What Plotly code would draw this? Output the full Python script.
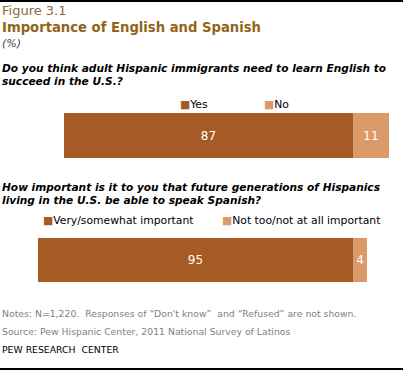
import plotly.graph_objects as go

W, H = 405, 371

# Data
q1_labels = ["Yes", "No"]
q1_values = [87, 11]
q2_labels = ["Very/somewhat important", "Not too/not at all important"]
q2_values = [95, 4]
colors = ["#A65A24", "#DC996A"]

def py(p):
    return 1 - p / H

def px(p):
    return p / W

fig = go.Figure()

# Question 1 bars
for lab, val, col in zip(q1_labels, q1_values, colors):
    fig.add_trace(go.Bar(
        x=[val], y=["q1"], orientation="h", name=lab,
        marker=dict(color=col, line=dict(width=0)),
        text=[str(val)], textposition="inside", insidetextanchor="middle",
        textfont=dict(color="white", size=12, family="DejaVu Sans"),
        xaxis="x", yaxis="y", showlegend=False, width=1, hoverinfo="skip",
    ))
# Question 2 bars
for lab, val, col in zip(q2_labels, q2_values, colors):
    fig.add_trace(go.Bar(
        x=[val], y=["q2"], orientation="h", name=lab,
        marker=dict(color=col, line=dict(width=0)),
        text=[str(val)], textposition="inside", insidetextanchor="middle",
        textfont=dict(color="white", size=12, family="DejaVu Sans"),
        xaxis="x2", yaxis="y2", showlegend=False, width=1, hoverinfo="skip",
    ))

unit = 3.32
R = 100
ax_common = dict(range=[0, R], visible=False, fixedrange=True)
fig.update_layout(
    width=W, height=H,
    margin=dict(l=0, r=0, t=0, b=0),
    paper_bgcolor="white", plot_bgcolor="white",
    barmode="stack", bargap=0,
    xaxis=dict(domain=[px(64), px(64 + unit * R)], anchor="y", **ax_common),
    yaxis=dict(domain=[py(158), py(113)], anchor="x", visible=False, range=[-0.5, 0.5], fixedrange=True),
    xaxis2=dict(domain=[px(38), px(38 + unit * R)], anchor="y2", **ax_common),
    yaxis2=dict(domain=[py(282), py(238)], anchor="x2", visible=False, range=[-0.5, 0.5], fixedrange=True),
    uniformtext=dict(mode=False),
)

ann = []
def txt(text, x, y, size, color="#000000", family="DejaVu Sans", xanchor="left"):
    ann.append(dict(text=text, x=px(x), y=py(y), xref="paper", yref="paper",
                    xanchor=xanchor, yanchor="middle", showarrow=False,
                    font=dict(size=size, color=color, family=family)))

txt("Figure 3.1", 0, 10, 13, "#8C6A3C")
txt("<b>Importance of English and Spanish</b>", 0, 28, 13.2, "#946419")
txt("<i>(%)</i>", 0, 44, 11, "#444444")
txt("<b><i>Do you think adult Hispanic immigrants need to learn English to</i></b>", 0, 68, 10.6, "#000000")
txt("<b><i>succeed in the U.S.?</i></b>", 0, 81, 10.6, "#000000")
txt("<b><i>How important is it to you that future generations of Hispanics</i></b>", 0, 187, 10.6, "#000000")
txt("<b><i>living in the U.S. be able to speak Spanish?</i></b>", 0, 200, 10.6, "#000000")

# Legends
def leg(label, x, y, col):
    txt(f"<span style='color:{col}'>■</span>{label}", x, y, 10.8, "#000000")

leg(q1_labels[0], 178, 104, colors[0])
leg(q1_labels[1], 262, 104, colors[1])
leg(q2_labels[0], 41, 221, colors[0])
leg(q2_labels[1], 220, 221, colors[1])

txt("Notes: N=1,220.  Responses of \u201cDon't know\u201d  and \u201cRefused\u201d are not shown.", 0, 313, 9.3, "#7F7F7F")
txt("Source: Pew Hispanic Center, 2011 National Survey of Latinos", 0, 331, 9.3, "#7F7F7F")
txt("PEW RESEARCH  CENTER", 0, 349, 9.3, "#000000")

fig.update_layout(annotations=ann)

fig.update_layout(shapes=[
    dict(type="line", xref="paper", yref="paper", x0=0, x1=px(403), y0=py(1), y1=py(1),
         line=dict(color="black", width=2)),
    dict(type="line", xref="paper", yref="paper", x0=0, x1=px(403), y0=py(369), y1=py(369),
         line=dict(color="black", width=2)),
])

fig.write_html("out.html", config={"displayModeBar": False},
               post_script="document.body.style.margin='0';document.body.style.overflow='hidden';")
